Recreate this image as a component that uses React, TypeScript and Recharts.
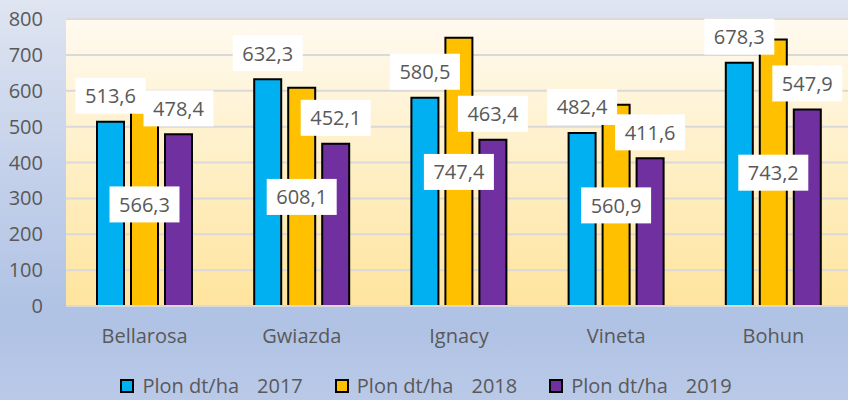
import React from "react";
import { Bar, BarChart, CartesianGrid, LabelList, Legend, XAxis, YAxis } from "recharts";

// potato yield per variety, dt/ha
const varieties = ["Bellarosa", "Gwiazda", "Ignacy", "Vineta", "Bohun"];
const yield2017 = [513.6, 632.3, 580.5, 482.4, 678.3];
const yield2018 = [566.3, 608.1, 747.4, 560.9, 743.2];
const yield2019 = [478.4, 452.1, 463.4, 411.6, 547.9];
const yTicks = [0, 100, 200, 300, 400, 500, 600, 700, 800];
const seriesYears = ["2017", "2018", "2019"];

const COLORS = ["#00b0f0", "#ffc000", "#7030a0"];
const TEXT = "#595959";
const FONT = '"Open Sans", "Noto Sans", sans-serif';

const data = varieties.map((name, i) => ({
  name,
  y2017: yield2017[i],
  y2018: yield2018[i],
  y2019: yield2019[i],
}));

const fmt = (v: number) => v.toFixed(1).replace(".", ",");

function LabelBox({ cx, cy, value }: { cx: number; cy: number; value: number }) {
  return (
    <g>
      <rect x={cx - 35} y={cy - 18} width={70} height={36} fill="#ffffff" />
      <text
        x={cx}
        y={cy}
        textAnchor="middle"
        dominantBaseline="central"
        fill={TEXT}
        fontSize={20}
        fontFamily={FONT}
      >
        {fmt(value)}
      </text>
    </g>
  );
}

// label sitting above the bar
function TopLabel(props: any) {
  const vb = props.viewBox ?? props;
  const x = Number(vb.x);
  const y = Number(vb.y);
  const w = Number(vb.width);
  return <LabelBox cx={x + w / 2} cy={y - 26} value={Number(props.value)} />;
}

// label centred inside the bar
function MidLabel(props: any) {
  const vb = props.viewBox ?? props;
  const x = Number(vb.x);
  const y = Number(vb.y);
  const w = Number(vb.width);
  const h = Number(vb.height);
  return <LabelBox cx={x + w / 2} cy={y + h / 2} value={Number(props.value)} />;
}

function YearLegend() {
  return (
    <div
      style={{
        height: 36,
        boxSizing: "border-box",
        paddingBottom: 4,
        display: "flex",
        justifyContent: "center",
        alignItems: "flex-end",
        fontFamily: FONT,
        fontSize: 20,
        lineHeight: "21px",
        color: TEXT,
      }}
    >
      {seriesYears.map((yr, i) => (
        <div
          key={yr}
          style={{
            display: "flex",
            alignItems: "center",
            height: 21,
            marginRight: i < seriesYears.length - 1 ? 32 : 0,
          }}
        >
          <span
            style={{
              width: 10,
              height: 10,
              background: COLORS[i],
              border: "2px solid #000",
              marginRight: 8,
            }}
          />
          <span style={{ whiteSpace: "nowrap" }}>Plon dt/ha</span>
          <span style={{ marginLeft: 18 }}>{yr}</span>
        </div>
      ))}
    </div>
  );
}

export default function App() {
  return (
    <div
      style={{
        position: "absolute",
        left: 0,
        top: 0,
        width: 848,
        height: 400,
        overflow: "hidden",
        background: "linear-gradient(to bottom, #dfe5f1 0%, #c3d0ea 45%, #afc2e4 80%, #bac9e8 100%)",
      }}
    >
      <BarChart
        width={852}
        height={400}
        data={data}
        margin={{ top: 19, right: 0, left: 0, bottom: 0 }}
        barSize={27}
        barGap={7}
      >
        <defs>
          <linearGradient id="plotBg" x1="0" y1="0" x2="0" y2="1">
            <stop offset="0%" stopColor="#fffaf0" />
            <stop offset="50%" stopColor="#feefc6" />
            <stop offset="100%" stopColor="#fee49d" />
          </linearGradient>
        </defs>
        <CartesianGrid
          vertical={false}
          stroke="#d9d9d9"
          strokeWidth={2}
          fill="url(#plotBg)"
          fillOpacity={1}
        />
        <XAxis
          dataKey="name"
          height={58}
          tickLine={false}
          axisLine={{ stroke: "#d9d9d9", strokeWidth: 2 }}
          tickMargin={17}
          tick={{ fill: TEXT, fontSize: 20, fontFamily: FONT }}
        />
        <YAxis
          width={66}
          domain={[0, 800]}
          ticks={yTicks}
          tickLine={false}
          axisLine={false}
          tickMargin={17}
          tick={{ fill: TEXT, fontSize: 20, fontFamily: FONT }}
        />
        <Legend verticalAlign="bottom" height={36} content={<YearLegend />} />
        <Bar dataKey="y2017" fill={COLORS[0]} stroke="#000" strokeWidth={2} isAnimationActive={false}>
          <LabelList dataKey="y2017" content={TopLabel} />
        </Bar>
        <Bar dataKey="y2018" fill={COLORS[1]} stroke="#000" strokeWidth={2} isAnimationActive={false}>
          <LabelList dataKey="y2018" content={MidLabel} />
        </Bar>
        <Bar dataKey="y2019" fill={COLORS[2]} stroke="#000" strokeWidth={2} isAnimationActive={false}>
          <LabelList dataKey="y2019" content={TopLabel} />
        </Bar>
      </BarChart>
    </div>
  );
}
